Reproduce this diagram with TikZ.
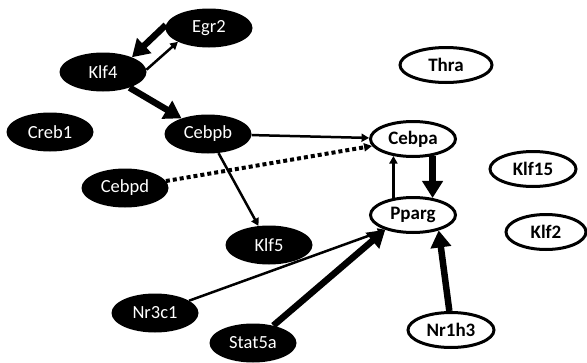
\documentclass[tikz,border=0pt]{standalone}
\usepackage{fontspec}
\setmainfont{Carlito}
\usetikzlibrary{shapes.geometric,arrows.meta}
\begin{document}
\begin{tikzpicture}[x=1pt,y=-1pt,
  blk/.style={ellipse,fill=black,text=white,inner sep=0pt,minimum width=87pt,minimum height=39pt,font=\fontsize{18.5}{18.5}\selectfont},
  wht/.style={ellipse,draw=black,line width=3pt,fill=white,inner sep=0pt,minimum width=85pt,minimum height=35pt,font=\fontsize{19}{19}\selectfont\bfseries},
  thin/.style={line width=2.5pt,-{Triangle[length=7.5pt,width=8pt]}},
  thick/.style={line width=6.5pt,-{Triangle[length=17pt,width=20pt]}},
  dots/.style={line width=4pt,dash pattern=on 4pt off 3pt,-{Triangle[length=8pt,width=8pt]}}
]
\useasboundingbox (0,0) rectangle (587,362);
% black nodes
\node[blk] (egr2) at (209,28) {Egr2};
\node[blk] (klf4) at (103,72) {Klf4};
\node[blk] (creb1) at (50,132) {Creb1};
\node[blk] (cebpb) at (208,134) {Cebpb};
\node[blk] (cebpd) at (125,188) {Cebpd};
\node[blk] (klf5) at (269,245) {Klf5};
\node[blk] (nr3c1) at (155,313) {Nr3c1};
\node[blk] (stat5a) at (253,343) {Stat5a};
% white nodes
\node[wht,minimum width=92pt] (thra) at (446,65) {Thra};
\node[wht] (cebpa) at (413,139) {Cebpa};
\node[wht] (pparg) at (413,215) {Pparg};
\node[wht,minimum width=86pt] (klf15) at (533,169) {Klf15};
\node[wht,minimum width=80pt] (klf2) at (546,232) {Klf2};
\node[wht,minimum width=86pt] (nr1h3) at (451,330) {Nr1h3};
% edges
\draw[thick] (egr2.176) -- (klf4.27);
\draw[thin] (klf4.3) -- (egr2.204);
\draw[thick] (klf4) -- (cebpb);
\draw[thin] (cebpb) -- (cebpa);
\draw[dots] (cebpd) -- (cebpa);
\draw[thin] (cebpb) -- (klf5);
\draw[thin] (pparg.139) -- (cebpa.221);
\draw[thick] (cebpa.-41) -- (pparg.41);
\draw[thin] (nr3c1) -- (pparg.208);
\draw[thick] (stat5a) -- (pparg.208);
\draw[thick] (nr1h3.95) -- (pparg.-31);
\end{tikzpicture}
\end{document}
